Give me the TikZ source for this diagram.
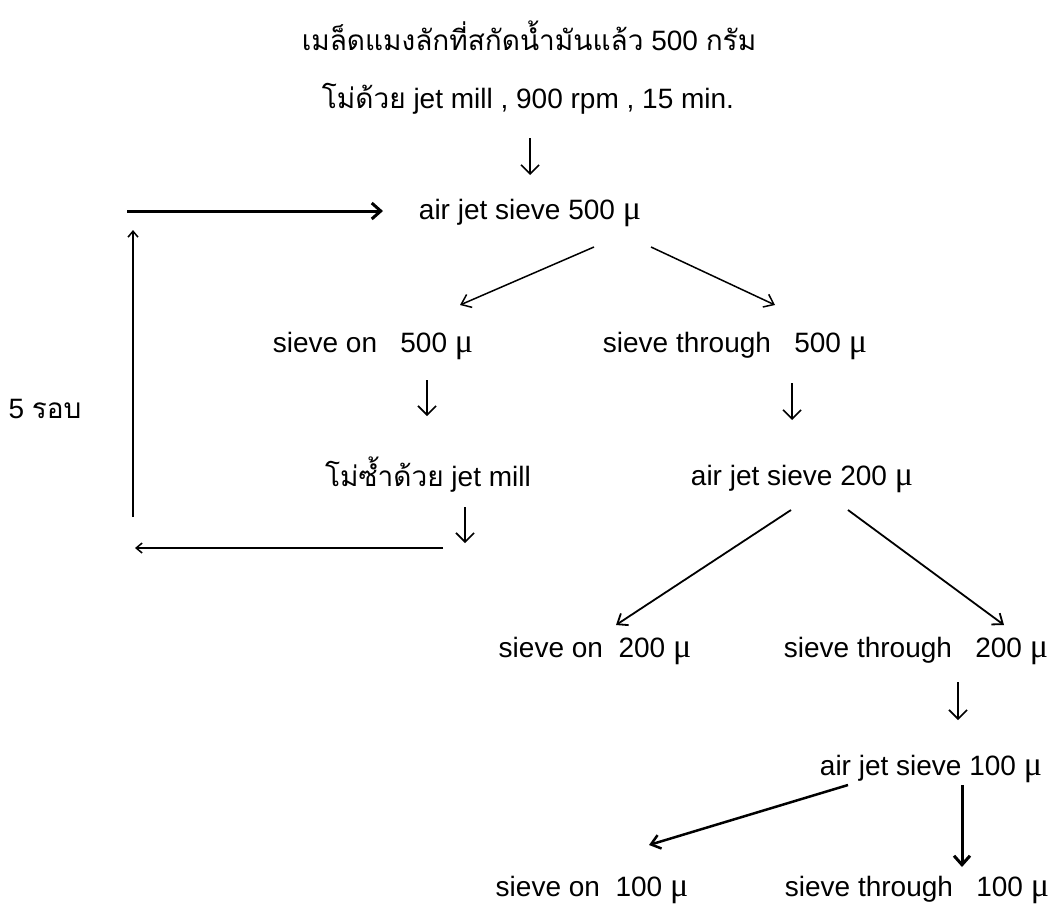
\documentclass[tikz,border=0pt]{standalone}
\usepackage{fontspec}
\setmainfont{Liberation Sans}
\newfontfamily\thai[Script=Thai]{Loma}
\newfontfamily\mufont{Liberation Serif}
\usetikzlibrary{arrows.meta}
\newcommand\mymu{{\mufont\fontsize{34}{34}\selectfont μ}}
\begin{document}
\begin{tikzpicture}[x=1pt,y=-1pt,
  lbl/.style={inner sep=0pt, anchor=base, font=\fontsize{28}{32}\selectfont},
  glyph/.style={line width=1.4pt, -{Straight Barb[length=9pt,width=18pt,line width=1.6pt]}},
  diag/.style={line width=1.5pt, -{Straight Barb[length=9pt,width=14pt]}},
  loopline/.style={line width=1.5pt, -{Straight Barb[length=6pt,width=10pt]}},
  thick arrow/.style={line width=3pt, -{Straight Barb[length=9pt,width=16pt]}}]
\useasboundingbox[fill=white] (0,0) rectangle (1057,903);
% texts
\node[lbl] (t1) at (529,50) {{\thai เมล็ดแมงลักที่สกัดน้ำมันแล้ว} 500 {\thai กรัม}};
\node[lbl] (t2) at (528,108) {{\thai โม่ด้วย} jet mill , 900 rpm , 15 min.};
\node[lbl] (A) at (530,219) {air jet sieve 500 \mymu};
\node[lbl] (B1) at (373,352) {sieve on\ \ \ 500 \mymu};
\node[lbl] (B2) at (735,352) {sieve through\ \ \ 500 \mymu};
\node[lbl] (R5) at (45,418) {5 {\thai รอบ}};
\node[lbl] (C1) at (428,486) {{\thai โม่ซ้ำด้วย} jet mill};
\node[lbl] (C2) at (802,485) {air jet sieve 200 \mymu};
\node[lbl] (D1) at (595,657) {sieve on\ \ 200 \mymu};
\node[lbl] (D2) at (916,657) {sieve through\ \ \ 200 \mymu};
\node[lbl] (E) at (931,775) {air jet sieve 100 \mymu};
\node[lbl] (F1) at (592,896) {sieve on\ \ 100 \mymu};
\node[lbl] (F2) at (917,896) {sieve through\ \ \ 100 \mymu};
% connector end points
\coordinate (a1s) at (530,138); \coordinate (a1e) at (530,175);
\coordinate (top0) at (127,211); \coordinate (topE) at (383,211);
\coordinate (aLs) at (594,247); \coordinate (aLe) at (460,305);
\coordinate (aRs) at (651,247); \coordinate (aRe) at (775,305);
\coordinate (b1s) at (427,380); \coordinate (b1e) at (427,416);
\coordinate (b2s) at (792,383); \coordinate (b2e) at (792,420);
\coordinate (c1s) at (465,507); \coordinate (c1e) at (465,543);
\coordinate (lb0) at (443,548); \coordinate (lbE) at (135,548);
\coordinate (lv0) at (133,517); \coordinate (lvE) at (133,230);
\coordinate (cLs) at (791,510); \coordinate (cLe) at (616,625);
\coordinate (cRs) at (848,510); \coordinate (cRe) at (1004,625);
\coordinate (d2s) at (958,682); \coordinate (d2e) at (958,720);
\coordinate (eLs) at (848,785); \coordinate (eLe) at (649,845);
\coordinate (eVs) at (962,785); \coordinate (eVe) at (962,867);
% connectors
\draw[glyph] (a1s) -- (a1e);
\draw[thick arrow] (top0) -- (topE);
\draw[diag] (aLs) -- (aLe);
\draw[diag] (aRs) -- (aRe);
\draw[glyph] (b1s) -- (b1e);
\draw[glyph] (b2s) -- (b2e);
\draw[glyph] (c1s) -- (c1e);
\draw[loopline] (lb0) -- (lbE);
\draw[loopline] (lv0) -- (lvE);
\draw[diag, line width=1.8pt] (cLs) -- (cLe);
\draw[diag, line width=1.8pt] (cRs) -- (cRe);
\draw[glyph] (d2s) -- (d2e);
\draw[diag, line width=2.5pt] (eLs) -- (eLe);
\draw[thick arrow] (eVs) -- (eVe);
\end{tikzpicture}
\end{document}
